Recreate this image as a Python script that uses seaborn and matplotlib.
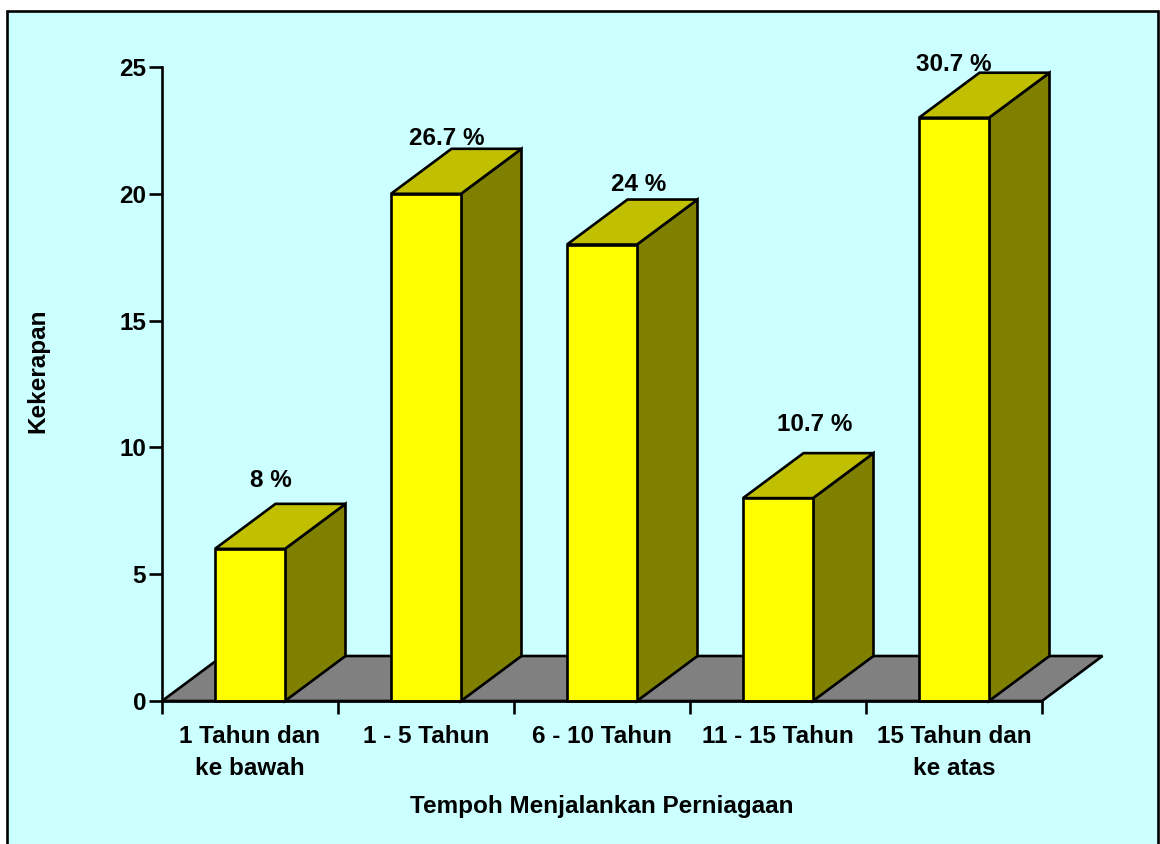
import matplotlib
matplotlib.use("Agg")
import matplotlib.pyplot as plt
from matplotlib.patches import Rectangle
import pandas as pd
import seaborn as sns

categories = ["1 Tahun dan\nke bawah", "1 - 5 Tahun", "6 - 10 Tahun", "11 - 15 Tahun", "15 Tahun dan\nke atas"]
frequency = [6, 20, 18, 8, 23]
percent_labels = ["8 %", "26.7 %", "24 %", "10.7 %", "30.7 %"]
y_ticks = [0, 5, 10, 15, 20, 25]

W, H = 1160, 844
BG = "#CCFFFF"
FRONT = "#FFFF00"
TOP = "#C0C000"
SIDE = "#808000"
FLOOR = "#808080"
LW = 1.9  # about 2.5 px at dpi 100
FS = 17.5

# hand placed label offsets from the bar's top centre, in pixels
label_offsets = [(21, 68), (21, 55), (37, 60), (37, 74), (0, 53)]

sns.set_theme(style="white")
plt.rcParams["font.family"] = ["Liberation Sans", "DejaVu Sans"]
plt.rcParams["font.weight"] = "bold"

fig = plt.figure(figsize=(W / 100, H / 100), dpi=100, facecolor="white")
fig.add_artist(Rectangle((6.5 / W, -0.02), (1158 - 6.5) / W, 1.02 - 11 / H, transform=fig.transFigure,
                         facecolor=BG, edgecolor="black", linewidth=LW, zorder=-5))
ax = fig.add_axes([162 / W, 1 - 701 / H, (1042 - 162) / W, (701 - 67) / H])
ax.patch.set_alpha(0)

df = pd.DataFrame({"Tempoh": categories, "Kekerapan": frequency})
bar_w = 70 / 176
sns.barplot(data=df, x="Tempoh", y="Kekerapan", color=FRONT, saturation=1, width=bar_w,
            edgecolor="black", linewidth=LW, ax=ax, zorder=4)
for bar in ax.patches:
    bar.set_clip_on(False)

ax.set_xlim(-0.5, len(categories) - 0.5)
ax.set_ylim(0, 25)

# depth of the fake 3D, in axis units
dx = 60.5 / 176
dy = 45 / (634 / 25)

# floor
ax.fill([-0.5, -0.5 + dx, 4.5 + dx, 4.5], [0, dy, dy, 0], facecolor=FLOOR, edgecolor="black",
        linewidth=LW, clip_on=False, zorder=1, joinstyle="miter")

for i, v in enumerate(frequency):
    left, right = i - bar_w / 2, i + bar_w / 2
    ax.fill([right, right + dx, right + dx, right], [0, dy, v + dy, v], facecolor=SIDE, edgecolor="black",
            linewidth=LW, clip_on=False, zorder=3, joinstyle="miter")
    ax.fill([left, left + dx, right + dx, right], [v, v + dy, v + dy, v], facecolor=TOP, edgecolor="black",
            linewidth=LW, clip_on=False, zorder=3, joinstyle="miter")
    ox, oy = label_offsets[i]
    ax.annotate(percent_labels[i], (i, v), xytext=(ox * 0.72, oy * 0.72), textcoords="offset points",
                ha="center", va="center", fontsize=FS, fontweight="bold", color="black", zorder=6)

sns.despine(ax=ax)
for s in ["left", "bottom"]:
    ax.spines[s].set_linewidth(LW)
    ax.spines[s].set_color("black")
    ax.spines[s].set_zorder(5)

ax.set_yticks(y_ticks)
ax.set_xticks([i - 0.5 for i in range(len(categories) + 1)])
ax.set_xticklabels([])
ax.set_xticks(range(len(categories)), labels=categories, minor=True)
ax.tick_params(axis="y", which="major", length=9.4, width=LW, color="black", labelsize=FS, pad=2, left=True, labelcolor="black")
ax.tick_params(axis="x", which="major", length=9.4, width=LW, color="black", bottom=True)
ax.tick_params(axis="x", which="minor", length=0, pad=17.5, labelsize=FS, labelcolor="black")
for lab in ax.get_xticklabels(minor=True):
    lab.set_fontweight("bold")
    lab.set_linespacing(1.5)
for lab in ax.get_yticklabels():
    lab.set_fontweight("bold")

ax.set_xlabel("")
ax.set_ylabel("")
fig.text(602 / W, 1 - 807 / H, "Tempoh Menjalankan Perniagaan", ha="center", va="center",
         fontsize=FS, fontweight="bold", color="black")
fig.text(38 / W, 1 - 371 / H, "Kekerapan", rotation=90, ha="center", va="center",
         fontsize=FS, fontweight="bold", color="black")

fig.savefig("out.png", dpi=100, facecolor=fig.get_facecolor())
